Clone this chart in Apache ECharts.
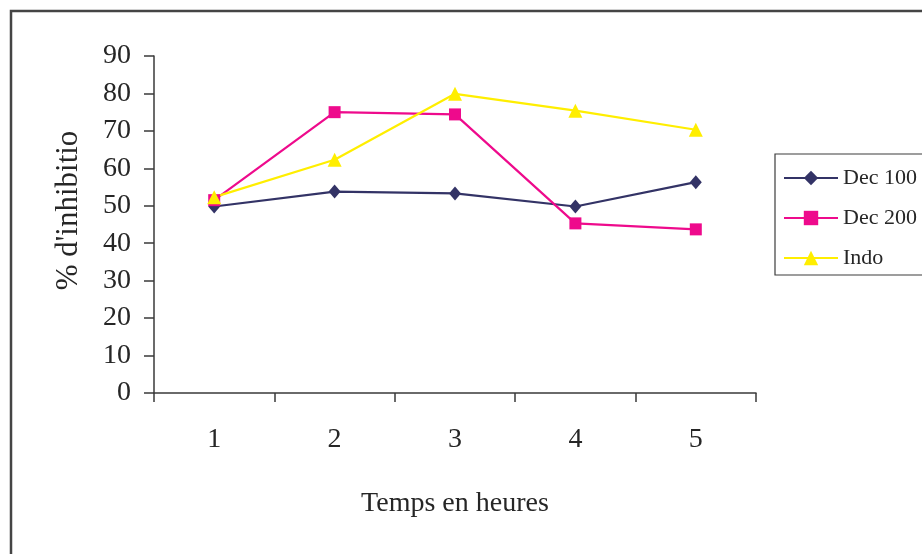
<!DOCTYPE html>
<html>
<head>
<meta charset="utf-8">
<script src="https://cdn.jsdelivr.net/npm/echarts@6/dist/echarts.min.js"></script>
<style>
  html, body { margin: 0; padding: 0; background: #fff; }
  #chart { width: 922px; height: 554px; }
</style>
</head>
<body>
<div id="chart"></div>
<script>
// Hours after administration
const hours = ['1', '2', '3', '4', '5'];
// Inhibition percentages per treatment
const dec100 = [49.8, 53.8, 53.3, 49.8, 56.3];
const dec200 = [51.5, 75.0, 74.4, 45.3, 43.7];
const indo = [52.3, 62.3, 79.9, 75.4, 70.3];
const seriesNames = ['Dec 100', 'Dec 200', 'Indo'];
const yTicks = { min: 0, max: 90, step: 10 };

const serif = 'Liberation Serif, Times New Roman, serif';
const ink = '#262626';
const axisColor = '#3a3a3a';

const chart = echarts.init(document.getElementById('chart'), null, { renderer: 'canvas' });

chart.setOption({
  backgroundColor: '#ffffff',
  animation: false,
  textStyle: { fontFamily: serif, color: ink },
  grid: { left: 154, top: 56, right: 166, bottom: 161, containLabel: false },
  graphic: [
    {
      type: 'rect', silent: true, z: -1,
      shape: { x: 11, y: 11, width: 1000, height: 700 },
      style: { fill: null, stroke: '#454545', lineWidth: 2.5 }
    },
    {
      type: 'rect', silent: true, z: -1,
      shape: { x: 775, y: 154, width: 200, height: 121 },
      style: { fill: '#fff', stroke: '#3c3c3c', lineWidth: 1.2 }
    }
  ],
  legend: {
    data: seriesNames,
    orient: 'vertical',
    left: 783,
    top: 167,
    padding: 0,
    itemWidth: 54,
    itemHeight: 18,
    itemGap: 18,
    textStyle: { fontFamily: serif, fontSize: 22, color: ink }
  },
  xAxis: {
    type: 'category',
    data: hours,
    boundaryGap: true,
    name: 'Temps en heures',
    nameLocation: 'middle',
    nameGap: 97,
    nameTextStyle: { fontFamily: serif, fontSize: 28, color: ink },
    axisLine: { lineStyle: { color: axisColor, width: 1.5 } },
    axisTick: { show: true, length: 9, inside: false, lineStyle: { color: axisColor, width: 1.5 } },
    axisLabel: { fontFamily: serif, fontSize: 28, color: ink, margin: 33 },
    splitLine: { show: false }
  },
  yAxis: {
    type: 'value',
    min: yTicks.min,
    max: yTicks.max,
    interval: yTicks.step,
    name: "% d'inhibitio",
    nameLocation: 'middle',
    nameGap: 70,
    nameRotate: 90,
    nameTextStyle: { fontFamily: serif, fontSize: 31, color: ink, padding: [0, 0, 0, 28] },
    axisLine: { show: true, lineStyle: { color: axisColor, width: 1.5 } },
    axisTick: { show: true, length: 10, lineStyle: { color: axisColor, width: 1.5 } },
    axisLabel: { fontFamily: serif, fontSize: 28, color: ink, margin: 23 },
    splitLine: { show: false }
  },
  series: [
    {
      name: seriesNames[0], type: 'line', data: dec100,
      symbol: 'diamond', symbolSize: [12, 14],
      lineStyle: { color: '#333366', width: 2.2 },
      itemStyle: { color: '#333366' }
    },
    {
      name: seriesNames[1], type: 'line', data: dec200,
      symbol: 'rect', symbolSize: 12,
      lineStyle: { color: '#EE0A8C', width: 2.2 },
      itemStyle: { color: '#EE0A8C' }
    },
    {
      name: seriesNames[2], type: 'line', data: indo,
      symbol: 'triangle', symbolSize: 14,
      lineStyle: { color: '#FFEE00', width: 2.2 },
      itemStyle: { color: '#FFEE00' }
    }
  ]
});
</script>
</body>
</html>
